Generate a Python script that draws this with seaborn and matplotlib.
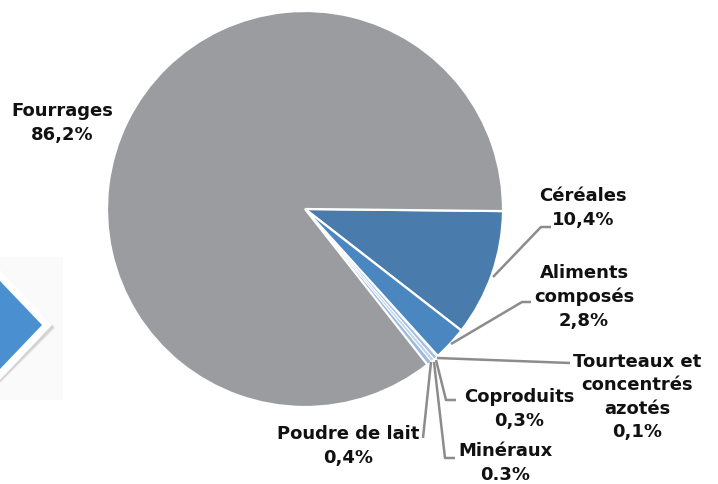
import matplotlib.pyplot as plt
import seaborn as sns
from matplotlib.patches import Polygon, Rectangle

# données
labels = ['Céréales', 'Aliments\ncomposés', 'Tourteaux et\nconcentrés\nazotés',
          'Coproduits', 'Minéraux', 'Poudre de lait', 'Fourrages']
values = [10.4, 2.8, 0.1, 0.3, 0.3, 0.4, 86.2]
pct_text = ['10,4%', '2,8%', '0,1%', '0,3%', '0.3%', '0,4%', '86,2%']
colors = ['#4a7bad', '#4a87c0', '#b4cbe8', '#a3bfe2', '#c3d6ee', '#9dbae0', '#9b9ca0']

sns.set_theme(style='white')
plt.rcParams['font.family'] = ['DejaVu Sans']

fig = plt.figure(figsize=(7.18, 4.84), dpi=100)
ax = fig.add_axes([0, 0, 1, 1])

H = 484
cx, cy, r = 305, H - 209, 198

wedges, _ = ax.pie(values, colors=colors, startangle=-0.6, counterclock=False,
                   center=(cx, cy), radius=r, frame=True,
                   wedgeprops=dict(edgecolor='white', linewidth=1.6))
# traits plus fins pour les petites parts
for w, v in zip(wedges, values):
    if v < 1:
        w.set_linewidth(0.7)

ax.set_xlim(0, 718)
ax.set_ylim(0, 484)
ax.set_aspect('equal')
ax.axis('off')

# flèche à gauche (coupée)
ax.add_patch(Rectangle((0, H - 400), 63, 143, facecolor='#fafafa', edgecolor='none', zorder=0))
for off, col in [(3, '#e4e4e4'), (2, '#d2d2d2')]:
    ax.add_patch(Polygon([(0, H - 270 - off), (52 + off, H - 325 - off), (0, H - 380 - off)],
                         closed=True, facecolor=col, edgecolor='none', zorder=1))
ax.add_patch(Polygon([(0, H - 270), (52, H - 325), (0, H - 380)], closed=True,
                     facecolor='white', edgecolor='none', zorder=2, joinstyle='round'))
ax.add_patch(Polygon([(0, H - 281), (42, H - 325), (0, H - 369)], closed=True,
                     facecolor='#4a90d0', edgecolor='none', zorder=3))

# traits de rappel
leaders = [
    [(493, 277), (541, 227), (551, 227)],
    [(451, 344), (522, 302), (531, 302)],
    [(437, 358), (570, 363)],
    [(436, 360), (446, 400), (456, 400)],
    [(434, 362), (445, 458), (455, 458)],
    [(431, 362), (423, 438)],
]
for pts in leaders:
    xs = [p[0] for p in pts]
    ys = [H - p[1] for p in pts]
    ax.plot(xs, ys, color='#8c8c8c', lw=1.8, solid_capstyle='butt', zorder=4)

# étiquettes
label_pos = [(583, 208), (584, 297), (637, 397), (519, 409), (505, 463), (348, 446), (62, 123)]
for lab, pct, (x, y) in zip(labels, pct_text, label_pos):
    ax.text(x, H - y, lab + '\n' + pct, ha='center', va='center', fontsize=13,
            fontweight='bold', color='#111111', linespacing=1.4, zorder=5)

plt.savefig('out.png', dpi=100)
